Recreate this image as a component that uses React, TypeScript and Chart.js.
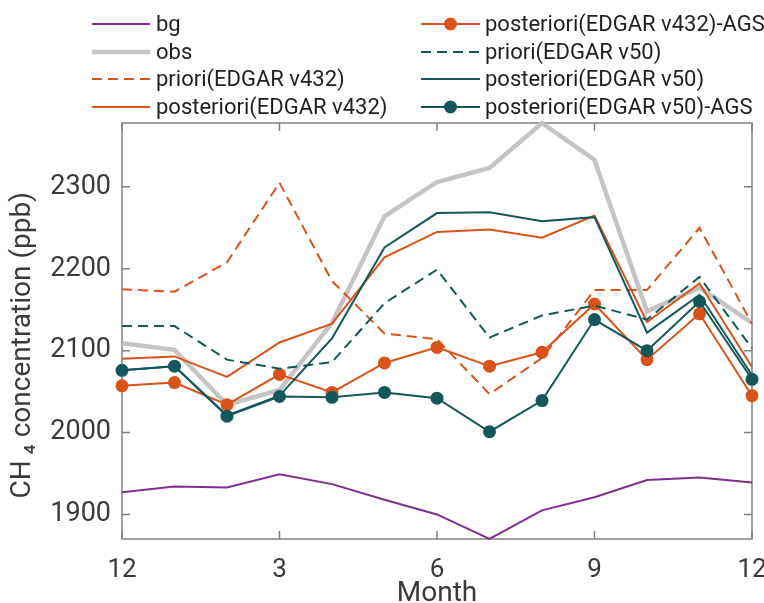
import { useEffect, useRef } from 'react';
import { Chart, registerables } from 'chart.js';

Chart.register(...registerables);

// ---- data ----
const months = ['12', '1', '2', '3', '4', '5', '6', '7', '8', '9', '10', '11', '12'];
const xTickIdx = [0, 3, 6, 9, 12];
const yTickValues = [1900, 2000, 2100, 2200, 2300];
const yMin = 1870;
const yMax = 2378;

const bg = [1927, 1934, 1933, 1949, 1937, 1918, 1900, 1870, 1905, 1921, 1942, 1945, 1939];
const obs = [2109, 2101, 2034, 2052, 2134, 2264, 2306, 2323, 2378, 2333, 2148, 2177, 2134];
const prioriV432 = [2175, 2172, 2208, 2305, 2185, 2121, 2114, 2047, 2091, 2174, 2174, 2250, 2133];
const posteriorV432 = [2090, 2093, 2068, 2110, 2133, 2214, 2245, 2248, 2238, 2265, 2135, 2182, 2080];
const agsV432 = [2057, 2061, 2034, 2071, 2049, 2085, 2104, 2081, 2098, 2157, 2089, 2145, 2045];
const prioriV50 = [2130, 2130, 2089, 2078, 2086, 2158, 2199, 2116, 2143, 2155, 2138, 2190, 2103];
const posteriorV50 = [2076, 2081, 2021, 2045, 2115, 2226, 2268, 2269, 2258, 2263, 2122, 2168, 2070];
const agsV50 = [2076, 2081, 2020, 2044, 2043, 2049, 2042, 2001, 2039, 2138, 2100, 2160, 2065];

const PURPLE = '#7E2F8E';
const GRAY = '#C4C4C4';
const ORANGE = '#D95319';
const TEAL = '#14575B';
const FONT = 'Roboto, sans-serif';
const AXIS_TEXT = '#3a3a3a';

function series(label: string, data: number[], color: string, width: number, dash: number[], marker: boolean, idx: number) {
  return {
    label,
    data,
    borderColor: color,
    backgroundColor: color,
    borderWidth: width,
    borderDash: dash,
    pointRadius: marker ? 6.5 : 0,
    pointHoverRadius: marker ? 6.5 : 0,
    pointBackgroundColor: color,
    pointBorderColor: color,
    pointBorderWidth: 0,
    tension: 0,
    fill: false,
    clip: false as any,
    order: 20 - idx,
  };
}

const legendPlugin = {
  id: 'customLegend',
  afterDraw(chart: any) {
    const ctx = chart.ctx as CanvasRenderingContext2D;
    const cols = [
      { x0: 92, x1: 150, tx: 156 },
      { x0: 421, x1: 480, tx: 485 },
    ];
    const rowY = [24, 52, 79, 107];
    chart.data.datasets.forEach((ds: any, i: number) => {
      const c = cols[Math.floor(i / 4)];
      const y = rowY[i % 4];
      ctx.save();
      ctx.strokeStyle = ds.borderColor;
      ctx.lineWidth = ds.borderWidth;
      ctx.setLineDash(ds.borderDash || []);
      ctx.beginPath();
      ctx.moveTo(c.x0, y);
      ctx.lineTo(c.x1, y);
      ctx.stroke();
      ctx.setLineDash([]);
      if (ds.pointRadius > 0) {
        ctx.fillStyle = ds.pointBackgroundColor;
        ctx.beginPath();
        ctx.arc((c.x0 + c.x1) / 2, y, ds.pointRadius, 0, Math.PI * 2);
        ctx.fill();
      }
      ctx.fillStyle = '#1f1f1f';
      ctx.font = `22px ${FONT}`;
      ctx.textBaseline = 'middle';
      ctx.textAlign = 'left';
      ctx.fillText(ds.label, c.tx, y + 1);
      ctx.restore();
    });
  },
};

const boxPlugin = {
  id: 'boxAxes',
  beforeDatasetsDraw(chart: any) {
    const ctx = chart.ctx as CanvasRenderingContext2D;
    const { left, right, top, bottom } = chart.chartArea;
    const xs = chart.scales.x;
    const ys = chart.scales.y;
    const L = 8;
    ctx.save();
    ctx.strokeStyle = '#808080';
    ctx.lineWidth = 1.5;
    ctx.strokeRect(left, top, right - left, bottom - top);
    ctx.beginPath();
    xTickIdx.forEach((i) => {
      const px = xs.getPixelForValue(i);
      ctx.moveTo(px, bottom);
      ctx.lineTo(px, bottom - L);
      ctx.moveTo(px, top);
      ctx.lineTo(px, top + L);
    });
    yTickValues.forEach((v) => {
      const py = ys.getPixelForValue(v);
      ctx.moveTo(left, py);
      ctx.lineTo(left + L, py);
      ctx.moveTo(right, py);
      ctx.lineTo(right - L, py);
    });
    ctx.stroke();
    ctx.restore();
  },
};

export default function App() {
  const ref = useRef<HTMLCanvasElement | null>(null);

  useEffect(() => {
    if (!ref.current) return;
    const datasets = [
      series('bg', bg, PURPLE, 2, [], false, 0),
      series('obs', obs, GRAY, 4.5, [], false, 1),
      series('priori(EDGAR v432)', prioriV432, ORANGE, 2, [10, 6], false, 2),
      series('posteriori(EDGAR v432)', posteriorV432, ORANGE, 2, [], false, 3),
      series('posteriori(EDGAR v432)-AGS', agsV432, ORANGE, 2, [], true, 4),
      series('priori(EDGAR v50)', prioriV50, TEAL, 2, [10, 6], false, 5),
      series('posteriori(EDGAR v50)', posteriorV50, TEAL, 2, [], false, 6),
      series('posteriori(EDGAR v50)-AGS', agsV50, TEAL, 2, [], true, 7),
    ];
    const chart = new Chart(ref.current, {
      type: 'line',
      data: { labels: months, datasets },
      options: {
        responsive: false,
        animation: false,
        devicePixelRatio: 1,
        layout: { padding: { top: 123, right: 12, left: 0, bottom: 0 } },
        plugins: {
          legend: { display: false },
          tooltip: { enabled: false },
        },
        scales: {
          x: {
            type: 'category',
            offset: false,
            grid: { display: false, drawTicks: false },
            border: { display: false },
            afterBuildTicks: (scale: any) => {
              scale.ticks = xTickIdx.map((i) => ({ value: i }));
            },
            afterFit: (scale: any) => {
              scale.height = 64;
              scale.paddingLeft = 0;
              scale.paddingRight = 0;
            },
            ticks: {
              autoSkip: false,
              maxRotation: 0,
              padding: 16,
              color: AXIS_TEXT,
              font: { family: FONT, size: 26 },
              callback: (v: any) => months[v as number],
            },
            title: {
              display: true,
              text: 'Month',
              color: AXIS_TEXT,
              font: { family: FONT, size: 28, lineHeight: 0.65 },
              padding: { top: 0, bottom: 0 },
            },
          },
          y: {
            type: 'linear',
            min: yMin,
            max: yMax,
            grid: { display: false, drawTicks: false },
            border: { display: false },
            afterBuildTicks: (scale: any) => {
              scale.ticks = yTickValues.map((v) => ({ value: v }));
            },
            afterFit: (scale: any) => {
              scale.width = 122;
              scale.paddingTop = 0;
              scale.paddingBottom = 0;
            },
            ticks: {
              padding: 11,
              color: AXIS_TEXT,
              font: { family: FONT, size: 27 },
              callback: (v: any) => String(v),
            },
            title: {
              display: true,
              text: 'CH\u2009₄ concentration (ppb)\u2002\u2002',
              color: AXIS_TEXT,
              font: { family: FONT, size: 28 },
              padding: { top: 6, bottom: 0 },
            },
          },
        },
      },
      plugins: [boxPlugin, legendPlugin],
    } as any);
    return () => chart.destroy();
  }, []);

  return (
    <div style={{ position: 'absolute', left: 0, top: 0, width: 764, height: 603, background: '#fff' }}>
      <canvas ref={ref} width={764} height={603} style={{ width: 764, height: 603, display: 'block' }} />
    </div>
  );
}
